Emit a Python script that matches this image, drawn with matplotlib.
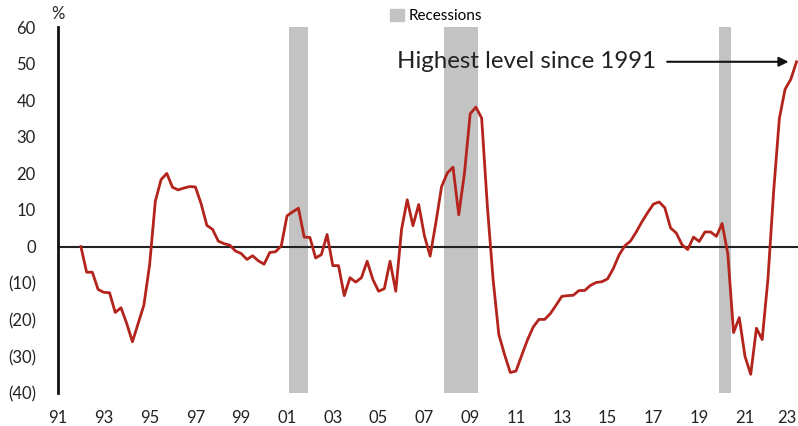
import numpy as np
import matplotlib
matplotlib.use('Agg')
import matplotlib.pyplot as plt
from matplotlib.patches import Patch
from matplotlib.transforms import ScaledTranslation

plt.rcParams['font.family'] = ['Lato', 'DejaVu Sans']

# quarterly series, first point is 1992 Q1
start_year = 1992
values = [
    0, -7, -7, -11.7, -12.5, -12.6, -18, -16.7, -21, -26, -21, -16, -5,
    12.4, 18.3, 20, 16.2, 15.5, 16, 16.4, 16.3, 11.7, 5.8, 4.7, 1.5,
    0.8, 0.4, -1.2, -1.9, -3.5, -2.5, -3.9, -4.8, -1.6, -1.4, 0.2,
    8.4, 9.5, 10.5, 2.6, 2.5, -3.1, -2.2, 3.3, -5.2, -5.2, -13.4,
    -8.5, -9.7, -8.5, -4, -9, -12.2, -11.5, -4, -12.2, 4.6, 12.8,
    5.7, 11.5, 3, -2.6, 6.5, 16.4, 20.1, 21.7, 8.7, 20.1, 36.3, 38.1,
    35.1, 11, -9, -24, -29.5, -34.4, -34, -29.7, -25.5, -22, -19.9,
    -19.9, -18.3, -16, -13.6,
    -13.4, -13.3, -12, -12, -10.6, -9.8, -9.6, -8.8, -6, -2.3, 0.2,
    1.5, 4, 6.8, 9.3, 11.6, 12.2, 10.6, 5.1, 3.7, 0.5, -0.8, 2.6, 1.4,
    4, 4,
    2.8, 6.3, -2, -23.5, -19.4, -30, -34.9, -22.3, -25.4, -9, 15, 35,
    43, 45.7, 50.5,
]

rec_start = [2001.1, 2007.85, 2019.87]
rec_end = [2001.9, 2009.35, 2020.4]

xticks = list(range(1991, 2024, 2))
xlabels = ['%02d' % (y % 100) for y in xticks]
yticks = [60, 50, 40, 30, 20, 10, 0, -10, -20, -30, -40]
ylabels = [str(v) if v >= 0 else '(%d)' % -v for v in yticks]

red = '#b3241c'
grey = '#c3c3c3'

dates = start_year + np.arange(len(values)) / 4.0

fig = plt.figure(figsize=(7.98, 4.26), dpi=100)
ax = fig.add_axes([58 / 798, 33 / 426, 740 / 798, 366 / 426])

for s, e in zip(rec_start, rec_end):
    ax.axvspan(s, e, color=grey, lw=0, zorder=1)

ax.axhline(0, color='#222222', lw=1.5, zorder=2)
ax.plot(dates, values, color=red, lw=2.0, zorder=3, solid_joinstyle='round')

ax.set_xlim(1991, 1991 + 740 / 22.9)
ax.set_ylim(-40, 60)
ax.set_xticks(xticks)
ax.set_xticklabels(xlabels)
ax.set_yticks(yticks)
ax.set_yticklabels(ylabels)
ax.tick_params(length=0, labelsize=12, colors='#222222')
ax.tick_params(axis='x', pad=12)
ax.tick_params(axis='y', pad=16)

# keep the last year label inside the picture
last = ax.get_xticklabels()[-1]
last.set_transform(last.get_transform() + ScaledTranslation(-3 / 72, 0, fig.dpi_scale_trans))

for side in ['top', 'right', 'bottom']:
    ax.spines[side].set_visible(False)
ax.spines['left'].set_linewidth(2)
ax.spines['left'].set_color('#111111')

ax.text(0, 1.035, '%', transform=ax.transAxes, ha='center', va='center',
        fontsize=12, color='#222222')

ax.legend(handles=[Patch(color=grey, label='Recessions')], loc='center',
          bbox_to_anchor=(0.511, 1.03), frameon=False, fontsize=11,
          handlelength=0.9, handleheight=0.9, handletextpad=0.3,
          borderpad=0, borderaxespad=0)

# annotation for the latest value
ax.text(2005.8, values[-1], 'Highest level since 1991', ha='left',
        va='center', fontsize=17.3, color='#222222')
ax.annotate('', xy=(dates[-1] - 0.35, values[-1]),
            xytext=(2017.6, values[-1]),
            arrowprops=dict(arrowstyle='-|>', color='#111111', lw=1.5,
                            mutation_scale=14, shrinkA=0, shrinkB=0))

fig.savefig('out.png', dpi=100)
